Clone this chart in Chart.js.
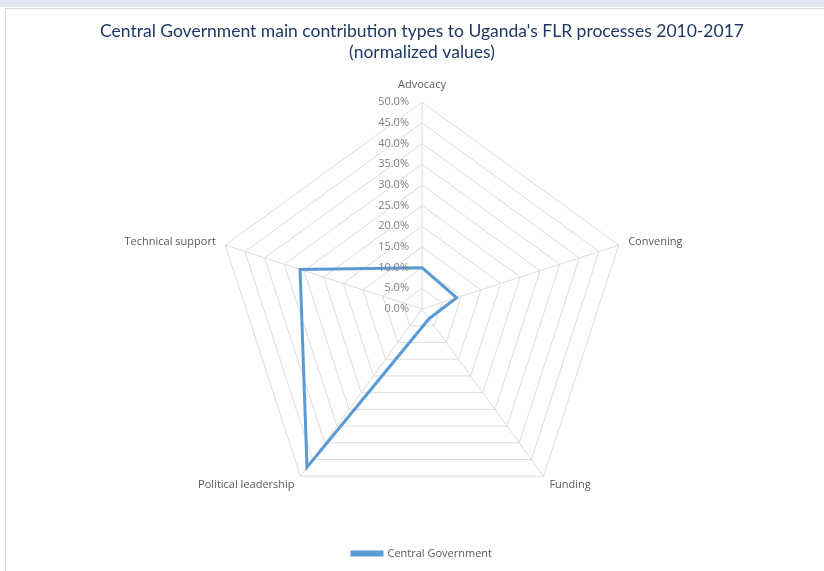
<!DOCTYPE html>
<html>
<head>
<meta charset="utf-8">
<script src="https://cdn.jsdelivr.net/npm/chart.js@4/dist/chart.umd.min.js"></script>
<style>
  html, body { margin: 0; padding: 0; background: #ffffff; overflow: hidden; width: 824px; height: 571px; }
  #topbar { position: absolute; left: 0; top: 0; width: 824px; height: 7px; background: #dfe6f1; }
  #frame { position: absolute; left: 5px; top: 8px; width: 830px; height: 570px; border: 1px solid #d9d9d9; background: #fff; }
  #wrap { position: absolute; left: 10px; top: 0; width: 824px; height: 571px; }
</style>
</head>
<body>
<div id="topbar"></div>
<div id="frame"></div>
<div id="wrap"><canvas id="radar" width="824" height="571"></canvas></div>
<script>
const categories = ['Advocacy', 'Convening', 'Funding', 'Political leadership', 'Technical support'];
const centralGovernment = [10.0, 8.8, 2.9, 47.3, 31.0];
const tickValues = [0, 5, 10, 15, 20, 25, 30, 35, 40, 45, 50];

// percent labels sit just left of the vertical axis,
// category names hug the outer corners (left/right aligned at the sides)
const radarText = {
    id: 'radarText',
    afterDatasetsDraw(chart) {
        const r = chart.scales.r;
        const ctx = chart.ctx;
        ctx.save();
        ctx.font = '11px "Open Sans", sans-serif';
        ctx.fillStyle = '#7f7f7f';
        ctx.textAlign = 'right';
        ctx.textBaseline = 'middle';
        tickValues.forEach(function (v) {
            const d = r.getDistanceFromCenterForValue(v);
            ctx.fillText(v.toFixed(1) + '%', r.xCenter - 13, r.yCenter - d);
        });

        ctx.fillStyle = '#595959';
        categories.forEach(function (name, i) {
            const top = i === 0;
            const p = r.getPointPosition(i, r.drawingArea + (top ? 17 : 10));
            if (p.x > r.xCenter + 5) ctx.textAlign = 'left';
            else if (p.x < r.xCenter - 5) ctx.textAlign = 'right';
            else ctx.textAlign = 'center';
            ctx.fillText(name, p.x, p.y);
        });
        ctx.restore();
    }
};

const ctx = document.getElementById('radar').getContext('2d');
new Chart(ctx, {
    type: 'radar',
    data: {
        labels: categories,
        datasets: [{
            label: 'Central Government',
            data: centralGovernment,
            borderColor: '#5b9bd5',
            backgroundColor: '#5b9bd5',
            borderWidth: 3,
            fill: false,
            pointRadius: 0,
            tension: 0
        }]
    },
    options: {
        responsive: false,
        animation: false,
        layout: { padding: { left: 20, right: 20, top: 4, bottom: 2 } },
        plugins: {
            title: {
                display: true,
                text: ["Central Government main contribution types to Uganda's FLR processes 2010-2017", '(normalized values)'],
                color: '#1f3864',
                font: { family: 'Lato', size: 17.5, weight: 'normal' },
                padding: { top: 17, bottom: 3 },
                lineHeight: 1.4
            },
            legend: {
                position: 'bottom',
                labels: {
                    boxWidth: 30,
                    boxHeight: 3,
                    color: '#595959',
                    font: { family: 'Open Sans', size: 11 },
                    padding: 19
                }
            },
            tooltip: { enabled: false }
        },
        scales: {
            r: {
                min: 0,
                max: 50,
                ticks: { stepSize: 5, display: false },
                grid: { color: '#dcdcdc', lineWidth: 1 },
                angleLines: { color: '#dcdcdc', lineWidth: 1 },
                // kept for sizing the radar; the visible names come from radarText
                pointLabels: {
                    color: 'rgba(0,0,0,0)',
                    font: { family: 'Open Sans', size: 11 },
                    padding: 11
                }
            }
        }
    },
    plugins: [radarText]
});
</script>
</body>
</html>
